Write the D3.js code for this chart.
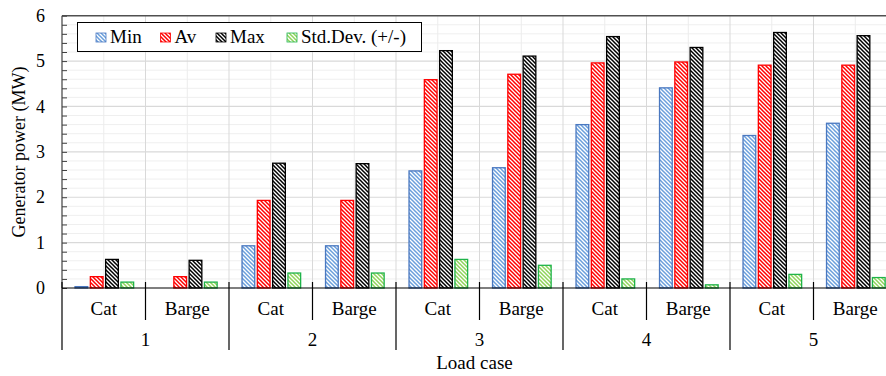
<!DOCTYPE html>
<html>
<head>
<meta charset="utf-8">
<script src="https://cdn.jsdelivr.net/npm/d3@7"></script>
<style>
  html, body { margin: 0; padding: 0; background: #fff; }
  svg { display: block; }
</style>
</head>
<body>
<svg id="chart" width="886" height="376"></svg>
<script>
// ---------- data ----------
const loadCases = ["1", "2", "3", "4", "5"];
const vessels = ["Cat", "Barge"];
const seriesNames = ["Min", "Av", "Max", "Std.Dev. (+/-)"];
const minValues = [0.03, 0, 0.93, 0.93, 2.58, 2.65, 3.60, 4.41, 3.36, 3.63];
const avValues  = [0.25, 0.25, 1.93, 1.93, 4.59, 4.71, 4.96, 4.98, 4.91, 4.91];
const maxValues = [0.63, 0.61, 2.75, 2.74, 5.23, 5.11, 5.54, 5.30, 5.63, 5.56];
const stdValues = [0.13, 0.13, 0.33, 0.33, 0.63, 0.50, 0.20, 0.07, 0.30, 0.23];
const yTicks = [0, 1, 2, 3, 4, 5, 6];
const yTitle = "Generator power (MW)";
const xTitle = "Load case";

(function () {
const FONT = '"Liberation Serif"';
const stripeColors = ["#6a9fdc", "#ff0000", "#000000", "#8fd45a"];
const outlineColors = ["#4a78c0", "#ff0000", "#000000", "#1fb34a"];

const seriesValues = [minValues, avValues, maxValues, stdValues];
const categories = [];
loadCases.forEach(lc => vessels.forEach(v => categories.push({lc, v, key: lc + "-" + v})));

const svg = d3.select("#chart");
const W = 886;
const pLeft = 62, pRight = 897, pTop = 15.7, pBottom = 288;

const x0 = d3.scaleBand().domain(categories.map(c => c.key)).range([pLeft, pRight]).padding(0);
const bw = x0.bandwidth();
const x1 = d3.scaleBand().domain(d3.range(seriesNames.length)).range([bw * 0.156, bw * 0.858]).paddingInner(0.17);
const y = d3.scaleLinear().domain([0, 6]).range([pBottom, pTop]);

const defs = svg.append("defs");
stripeColors.forEach((c, i) => {
  const p = defs.append("pattern").attr("id", "hatch" + i)
    .attr("patternUnits", "userSpaceOnUse").attr("width", 4).attr("height", 4);
  p.append("rect").attr("width", 4).attr("height", 4).attr("fill", "#fff");
  p.append("path").attr("d", "M-1,-1 L5,5 M-1,3 L1,5 M3,-1 L5,1")
    .attr("stroke", c).attr("stroke-width", 1.5).attr("fill", "none");
});

// gridlines
const g = svg.append("g");
const minorTicks = d3.range(1, 30).map(i => i * 0.2);
g.selectAll("line.hmin").data(minorTicks.filter(v => Math.abs(v - Math.round(v)) > 1e-6))
  .join("line").attr("x1", pLeft).attr("x2", W).attr("y1", d => y(d)).attr("y2", d => y(d))
  .attr("stroke", "#efefef").attr("stroke-width", 1);
g.selectAll("line.vc").data(categories).join("line")
  .attr("x1", d => x0(d.key) + bw / 2).attr("x2", d => x0(d.key) + bw / 2)
  .attr("y1", pTop).attr("y2", pBottom).attr("stroke", "#ececec");
g.selectAll("line.vb").data(categories.slice(1)).join("line")
  .attr("x1", d => x0(d.key)).attr("x2", d => x0(d.key))
  .attr("y1", pTop).attr("y2", pBottom).attr("stroke", "#d9d9d9");
g.selectAll("line.hmaj").data(yTicks.filter(v => v > 0 && v < 6)).join("line")
  .attr("x1", pLeft).attr("x2", W).attr("y1", d => y(d)).attr("y2", d => y(d))
  .attr("stroke", "#d9d9d9").attr("stroke-width", 1.2);
g.append("line").attr("x1", pLeft).attr("x2", W).attr("y1", y(6)).attr("y2", y(6))
  .attr("stroke", "#505050").attr("stroke-width", 1.5);

// bars
const bars = svg.append("g");
seriesValues.forEach((vals, si) => {
  bars.selectAll("rect.s" + si).data(categories).join("rect")
    .attr("class", "s" + si)
    .attr("x", d => x0(d.key) + x1(si))
    .attr("width", x1.bandwidth())
    .attr("y", (d, i) => y(vals[i]))
    .attr("height", (d, i) => pBottom - y(vals[i]))
    .attr("fill", "url(#hatch" + si + ")")
    .attr("stroke", outlineColors[si])
    .attr("stroke-width", (d, i) => vals[i] > 0 ? 1.3 : 0);
});

// y axis
const yAxisG = svg.append("g").attr("transform", `translate(${pLeft},0)`);
yAxisG.call(d3.axisRight(y).tickValues(d3.range(0, 31).map(i => i * 0.2)).tickSize(5).tickFormat(""));
yAxisG.select(".domain").remove();
yAxisG.selectAll(".tick line").attr("stroke", "#404040");
yAxisG.append("line").attr("x1", 0).attr("x2", 0).attr("y1", pTop).attr("y2", pBottom).attr("stroke", "#404040").attr("stroke-width", 1.2);
const yLab = svg.append("g").attr("transform", `translate(${pLeft},0)`)
  .call(d3.axisLeft(y).tickValues(yTicks).tickSize(0).tickPadding(17).tickFormat(d3.format("d")));
yLab.select(".domain").remove();
yLab.selectAll("text").attr("fill", "#000");

// x axis
svg.append("line").attr("x1", pLeft).attr("x2", W).attr("y1", pBottom).attr("y2", pBottom)
  .attr("stroke", "#000").attr("stroke-width", 1.2);
const sep = svg.append("g");
categories.forEach((c, i) => {
  const isGroup = i % 2 === 0;
  sep.append("line").attr("x1", x0(c.key)).attr("x2", x0(c.key))
    .attr("y1", pBottom - 6).attr("y2", isGroup ? 350 : 320)
    .attr("stroke", "#000").attr("stroke-width", 1.2);
});
svg.append("g").attr("class", "lbl").selectAll("text").data(categories).join("text")
  .attr("x", d => x0(d.key) + bw / 2).attr("y", 315)
  .attr("text-anchor", "middle").attr("font-size", 19).text(d => d.v);
svg.append("g").attr("class", "lbl").selectAll("text").data(loadCases).join("text")
  .attr("x", d => x0(d + "-Cat") + bw).attr("y", 346)
  .attr("text-anchor", "middle").attr("font-size", 19).text(d => d);
svg.append("text").attr("x", (pLeft + pRight) / 2 - 5).attr("y", 369)
  .attr("text-anchor", "middle").attr("font-size", 19).text(xTitle);

// y title
svg.append("text").attr("transform", "translate(25,152) rotate(-90)")
  .attr("text-anchor", "middle").attr("font-size", 18).text(yTitle);

// legend
const lg = svg.append("g");
lg.append("rect").attr("x", 77.5).attr("y", 22.5).attr("width", 344).attr("height", 29)
  .attr("fill", "#fff").attr("stroke", "#000").attr("stroke-width", 1);
const legendX = [96, 160.5, 216, 287];
seriesNames.forEach((s, i) => {
  lg.append("rect").attr("x", legendX[i]).attr("y", 33).attr("width", 10).attr("height", 9)
    .attr("fill", "url(#hatch" + i + ")").attr("stroke", outlineColors[i]).attr("stroke-width", 0.8);
  lg.append("text").attr("x", legendX[i] + 14).attr("y", 43).attr("font-size", 19).text(s);
});

// apply font to every text element directly
svg.selectAll("text").attr("font-family", FONT);
yLab.selectAll("text").attr("font-size", 18);
})();
</script>
</body>
</html>
